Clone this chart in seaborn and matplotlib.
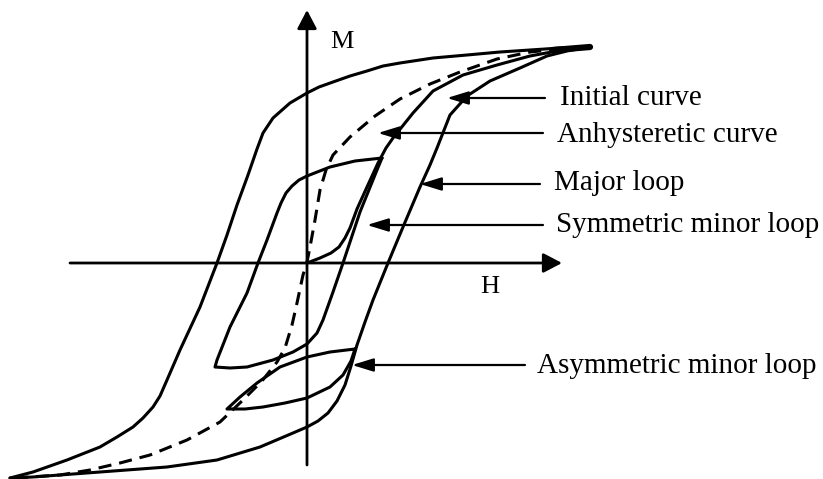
import matplotlib
matplotlib.use("Agg")
import matplotlib.pyplot as plt
import seaborn as sns
import pandas as pd

# Hysteresis curves, H (horizontal) and M (vertical) in arbitrary units
major_desc_h = [283, 253, 223, 193, 160, 126, 93, 76, 60, 43, 26, 12, 0, -17, -34, -44,
                -50, -59, -70, -80, -90, -107, -127, -140, -147, -154, -164, -174, -190,
                -207, -240, -274, -297]
major_desc_m = [216, 215, 213, 211, 208, 205, 200, 197, 192, 187, 181, 176, 170, 160, 145, 130,
                114, 88, 58, 28, 0, -44, -87, -117, -133, -144, -155, -164, -174,
                -184, -197, -209, -215]

major_asc_h = [-297, -274, -207, -140, -90, -47, -14, 0, 11, 21, 30, 38, 44, 50, 58, 66, 81,
               96, 113, 123, 130, 143, 160, 183, 213, 240, 260, 283]
major_asc_m = [-215, -214, -209, -204, -197, -184, -170, -164, -158, -150, -138, -122, -103, -82,
               -59, -37, 0, 36, 76, 98, 115, 148, 167, 182, 195, 207, 212, 216]

anhyst_h = [-292, -247, -217, -187, -157, -120, -87, -64, -45, -30, -22, -15, -10, -4, 0,
            3, 8, 13, 19, 26, 43, 68, 93, 123, 153, 190, 223, 253, 283]
anhyst_m = [-215, -212, -207, -200, -192, -177, -159, -137, -118, -99, -85, -62, -40, -12, 1,
            16, 43, 73, 93, 108, 126, 147, 164, 179, 191, 204, 211, 214, 216]

initial_h = [0, 13, 24, 32, 38, 43, 50, 60, 71, 79, 86, 106, 126, 156, 190, 223, 250, 283]
initial_m = [0, 5, 10, 16, 25, 35, 54, 76, 100, 115, 125, 150, 172, 188, 198, 207, 212, 216]

sym_minor_h = [75, 48, 23, 0, -8, -15, -21, -26, -30, -40, -49, -60, -77, -90, -92,
               -77, -60, -34, -14, 0, 10, 16, 26, 36, 53, 70, 75]
sym_minor_m = [105, 102, 96, 87, 83, 77, 70, 60, 50, 23, 0, -30, -64, -97, -104,
               -105, -104, -97, -89, -81, -70, -57, -29, 0, 51, 93, 105]

asym_minor_h = [48, 23, 0, -27, -50, -67, -80, -62, -44, -22, 0, 23, 36, 44, 48]
asym_minor_m = [-86, -89, -94, -104, -120, -134, -146, -146, -144, -140, -135, -124, -112, -98, -86]

# Leader lines: label, tip (H, M), line start H, text position (H, baseline M)
labels = ["Initial curve", "Anhysteretic curve", "Major loop",
          "Symmetric minor loop", "Asymmetric minor loop"]
tip_h = [140, 71, 113, 60, 45]
tip_m = [165, 130, 79, 38, -102]
line_end_h = [238, 236, 233, 236, 218]
text_h = [253, 250, 247, 249, 230]
text_m = [158, 121, 73, 31, -110]

sns.set_theme(style="white")
plt.rcParams["font.family"] = ["Liberation Serif", "DejaVu Serif"]

fig = plt.figure(figsize=(8.23, 4.79), dpi=100)
ax = fig.add_axes([0, 0, 1, 1])
ax.set_xlim(-307, 516)
ax.set_ylim(-216, 263)
ax.set_axis_off()

lw = 2.2
common = dict(ax=ax, sort=False, estimator=None, color="black", lw=lw,
              legend=False, solid_joinstyle="round", solid_capstyle="round")

def curve(h, m, **kw):
    df = pd.DataFrame({"H": h, "M": m})
    opts = dict(common)
    opts.update(kw)
    sns.lineplot(data=df, x="H", y="M", **opts)

curve(major_desc_h, major_desc_m)
curve(major_asc_h, major_asc_m)
curve(initial_h, initial_m)
curve(sym_minor_h, sym_minor_m)
curve(asym_minor_h, asym_minor_m)
curve(anhyst_h, anhyst_m, linestyle=(0, (4.3, 2.6)))

# thickened saturation tip
curve([246, 283], [213, 216], lw=4.5)

# coordinate axes with arrows
axis_arrow = dict(arrowstyle="-|>,head_length=0.42,head_width=0.22", color="black",
                  lw=2.0, mutation_scale=27, shrinkA=0, shrinkB=0)
ax.annotate("", xy=(0, 253), xytext=(0, -202), arrowprops=axis_arrow)
ax.annotate("", xy=(255, 0), xytext=(-237, 0), arrowprops=axis_arrow)
ax.text(23, 215, "M", fontsize=19, ha="left", va="baseline", color="black")
ax.text(173, -30, "H", fontsize=19, ha="left", va="baseline", color="black")

# labelled leader arrows
lead_arrow = dict(arrowstyle="-|>,head_length=0.65,head_width=0.2", color="black",
                  lw=1.6, mutation_scale=20, shrinkA=0, shrinkB=0)
for lab, th, tm, lh, xh, ym in zip(labels, tip_h, tip_m, line_end_h, text_h, text_m):
    ax.annotate("", xy=(th, tm), xytext=(lh, tm), arrowprops=lead_arrow)
    ax.text(xh, ym, lab, fontsize=21, ha="left", va="baseline", color="black")

fig.savefig("out.png", dpi=100)
